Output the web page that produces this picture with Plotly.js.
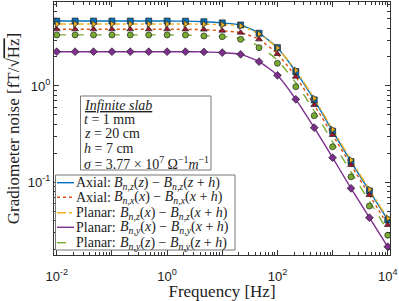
<!DOCTYPE html>
<html>
<head>
<meta charset="utf-8">
<script src="https://cdn.plot.ly/plotly-3.0.1.min.js"></script>
<style>html,body{margin:0;padding:0;background:#fff;} #chart{width:399px;height:301px;}</style>
</head>
<body>
<div id="chart"></div>
<script>
// Frequencies [Hz] (marker positions, 1/3 decade apart)
var freq = [0.01, 0.0215, 0.0464, 0.1, 0.215, 0.464, 1, 2.15, 4.64, 10, 21.5, 46.4, 100, 215, 464, 1000, 2154, 4642, 10000];

// Gradiometer noise [fT/sqrt(Hz)]
var axialZ   = [4.72, 4.72, 4.72, 4.72, 4.72, 4.72, 4.72, 4.71, 4.65, 4.52, 4.30, 3.53, 2.50, 1.41, 0.716, 0.340, 0.164, 0.0813, 0.0406];
var axialX   = [3.88, 3.88, 3.88, 3.88, 3.88, 3.88, 3.88, 3.87, 3.85, 3.75, 3.58, 3.05, 2.15, 1.25, 0.635, 0.310, 0.151, 0.0738, 0.0360];
var planarZX = [4.40, 4.40, 4.40, 4.40, 4.40, 4.40, 4.40, 4.40, 4.38, 4.33, 4.20, 3.47, 2.48, 1.45, 0.742, 0.353, 0.170, 0.0842, 0.0421];
var planarYX = [2.27, 2.27, 2.27, 2.27, 2.27, 2.27, 2.27, 2.27, 2.26, 2.22, 2.13, 1.79, 1.29, 0.727, 0.369, 0.180, 0.0866, 0.0429, 0.0214];
var planarYZline = [3.39, 3.39, 3.39, 3.39, 3.39, 3.39, 3.39, 3.38, 3.33, 3.27, 3.10, 2.60, 1.85, 1.08, 0.550, 0.262, 0.128, 0.0635, 0.0315];
var planarYZpts  = [3.39, 3.39, 3.39, 3.39, 3.39, 3.39, 3.39, 3.38, 3.31, 3.25, 3.05, 2.50, 1.72, 0.983, 0.492, 0.234, 0.114, 0.0567, 0.0282];

// Legend labels (type word + formula) and tick labels
var kinds = ['Axial:', 'Axial:', 'Planar:', 'Planar:', 'Planar:'];
var formulas = [
  '<i>B</i><sub><i>n,z</i></sub>(<i>z</i>) − <i>B</i><sub><i>n,z</i></sub>(<i>z</i> + <i>h</i>)',
  '<i>B</i><sub><i>n,x</i></sub>(<i>x</i>) − <i>B</i><sub><i>n,x</i></sub>(<i>x</i> + <i>h</i>)',
  '<i>B</i><sub><i>n,z</i></sub>(<i>x</i>) − <i>B</i><sub><i>n,z</i></sub>(<i>x</i> + <i>h</i>)',
  '<i>B</i><sub><i>n,y</i></sub>(<i>x</i>) − <i>B</i><sub><i>n,y</i></sub>(<i>x</i> + <i>h</i>)',
  '<i>B</i><sub><i>n,y</i></sub>(<i>z</i>) − <i>B</i><sub><i>n,y</i></sub>(<i>z</i> + <i>h</i>)'
];
var xTickVals = [0.01, 0.1, 1, 10, 100, 1000, 10000];
var xTickText = ['10<sup>-2</sup>', '', '10<sup>0</sup>', '', '10<sup>2</sup>', '', '10<sup>4</sup>'];
var yTickVals = [0.1, 1];
var yTickText = ['10<sup>-1</sup>', '10<sup>0</sup>'];
var infoLines = [
  '<span style="text-decoration:underline"><i>Infinite slab</i></span>',
  '<i>t</i> = 1 mm',
  '<i>z</i> = 20 cm',
  '<i>h</i> = 7 cm',
  '<i>σ</i> = 3.77 × 10<sup>7</sup> Ω<sup>−1</sup><i>m</i><sup>−1</sup>'
];

var lineY = [axialZ, axialX, planarZX, planarYX, planarYZline];
var ptsY  = [axialZ, axialX, planarZX, planarYX, planarYZpts];
var lineColors = ['#0072BD', '#D95319', '#EDB120', '#7E2F8E', '#77AC30'];
var markerColors = ['#0072BD', '#A2142F', '#EDB120', '#7E2F8E', '#77AC30'];
var dashes = ['solid', 'dot', 'dashdot', 'solid', 'dash'];
var symbols = ['square', 'triangle-up', 'triangle-right', 'diamond', 'circle'];

var traces = [];
for (var i = 0; i < 5; i++) {
  traces.push({
    x: freq, y: lineY[i], type: 'scatter', mode: 'lines', name: kinds[i] + ' ' + formulas[i], showlegend: false,
    line: {color: lineColors[i], width: 1.4, dash: dashes[i], shape: 'spline', smoothing: 0.6},
    hoverinfo: 'skip'
  });
}
for (var j = 0; j < 5; j++) {
  traces.push({
    x: freq, y: ptsY[j], type: 'scatter', mode: 'markers', showlegend: false,
    marker: {symbol: symbols[j], size: 6, color: markerColors[j], line: {color: '#222', width: 0.7}}
  });
}

// plot-area pixel helpers (plot spans x 54..390, y 2..255)
var PX0 = 54, PW = 336, PY1 = 255, PH = 253;
function px(x){ return (x - PX0) / PW; }
function py(y){ return (PY1 - y) / PH; }

var serif = 'Liberation Serif, serif';
var shapes = [];
var annotations = [];

// info box
shapes.push({type: 'rect', xref: 'paper', yref: 'paper', x0: px(80.5), x1: px(211), y0: py(170), y1: py(96),
  line: {color: '#777', width: 1}, fillcolor: '#fff', layer: 'above'});
var infoY = [105, 119.3, 133.3, 148.3, 162.7];
for (var k = 0; k < infoLines.length; k++) {
  annotations.push({xref: 'paper', yref: 'paper', x: px(81.5), y: py(infoY[k]), xanchor: 'left', yanchor: 'middle',
    align: 'left', showarrow: false, text: infoLines[k], font: {family: serif, size: 14, color: '#222'}});
}

// legend box
shapes.push({type: 'rect', xref: 'paper', yref: 'paper', x0: px(55.5), x1: px(235), y0: py(250), y1: py(175),
  line: {color: '#777', width: 1}, fillcolor: '#fff', layer: 'above'});
var legY = [182.7, 197.3, 212.7, 227.3, 242.7];
var formulaX = [112, 112, 118, 118, 118];
for (var m = 0; m < 5; m++) {
  shapes.push({type: 'line', xref: 'paper', yref: 'paper', x0: px(57), x1: px(74), y0: py(legY[m]), y1: py(legY[m]),
    line: {color: lineColors[m], width: 1.4, dash: dashes[m]}, layer: 'above'});
  annotations.push({xref: 'paper', yref: 'paper', x: px(74), y: py(legY[m]), xanchor: 'left', yanchor: 'middle',
    align: 'left', showarrow: false, text: kinds[m], font: {family: serif, size: 14, color: '#222'}});
  annotations.push({xref: 'paper', yref: 'paper', x: px(formulaX[m]), y: py(legY[m] + 0.5), xanchor: 'left', yanchor: 'middle',
    align: 'left', showarrow: false, text: formulas[m], font: {family: serif, size: 14, color: '#222'}});
}

var layout = {
  width: 399, height: 301,
  margin: {l: 54, r: 9, t: 2, b: 46},
  paper_bgcolor: '#fff', plot_bgcolor: '#fff',
  font: {family: serif, color: '#222', size: 12},
  showlegend: false,
  xaxis: {
    type: 'log', range: [-2.05, 4.04],
    showline: true, linecolor: '#333', linewidth: 1, mirror: 'allticks',
    ticks: 'inside', ticklen: 5, tickcolor: '#333',
    tickmode: 'array', tickvals: xTickVals, ticktext: xTickText,
    ticklabelstandoff: 9,
    tickfont: {family: 'Liberation Sans, Arial, sans-serif', size: 13, color: '#222'},
    minor: {ticks: 'inside', ticklen: 3, dtick: 'D1', tickcolor: '#333', showgrid: false},
    showgrid: false, zeroline: false,
    title: {text: 'Frequency [Hz]', font: {family: serif, size: 17, color: '#222'}, standoff: 0}
  },
  yaxis: {
    type: 'log', range: [-1.755, 0.872],
    showline: true, linecolor: '#333', linewidth: 1, mirror: 'allticks',
    ticks: 'inside', ticklen: 5, tickcolor: '#333',
    tickmode: 'array', tickvals: yTickVals, ticktext: yTickText,
    tickfont: {family: 'Liberation Sans, Arial, sans-serif', size: 13, color: '#222'},
    minor: {ticks: 'inside', ticklen: 3, dtick: 'D1', tickcolor: '#333', showgrid: false},
    showgrid: false, zeroline: false,
    title: {text: 'Gradiometer noise [fT/√<span style="text-decoration:overline">Hz</span>]', font: {family: serif, size: 17, color: '#222'}, standoff: 3}
  },
  shapes: shapes,
  annotations: annotations
};

Plotly.newPlot('chart', traces, layout, {displayModeBar: false, staticPlot: true});
</script>
</body>
</html>
